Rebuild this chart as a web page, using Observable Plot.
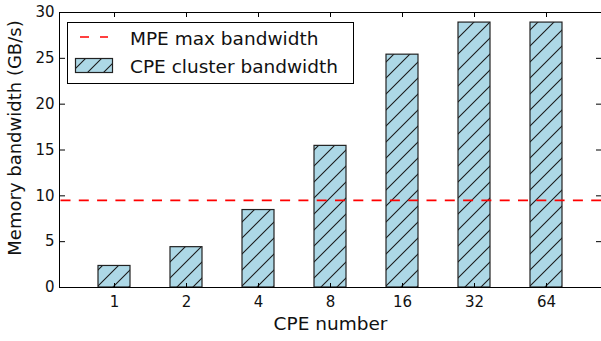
<!DOCTYPE html>
<html><head><meta charset="utf-8">
<script src="https://cdn.jsdelivr.net/npm/d3@7"></script>
<script src="https://cdn.jsdelivr.net/npm/@observablehq/plot@0.6"></script>
<style>body{margin:0;background:#fff;} #chart{width:601px;height:341px;}</style>
</head><body><div id="chart"></div>
<script>
const cpeCounts = ["1", "2", "4", "8", "16", "32", "64"];
const cpeBandwidth = [2.35, 4.4, 8.45, 15.45, 25.4, 28.9, 28.9];
const mpeMaxBandwidth = 9.5;
const yTicks = [0, 5, 10, 15, 20, 25, 30];
const legendLabels = ["MPE max bandwidth", "CPE cluster bandwidth"];
const xLabel = "CPE number";
const yLabel = "Memory bandwidth (GB/s)";

const data = cpeCounts.map((c, i) => ({cpe: c, bw: cpeBandwidth[i]}));
const W = 601, H = 341, mL = 59, mR = 0, mT = 12, mB = 54;
const innerH = H - mT - mB, innerW = W - mL - mR;
const font = "'DejaVu Sans', sans-serif";
const tickLen = 5;

const plot = Plot.plot({
  width: W, height: H,
  marginLeft: mL, marginRight: mR, marginTop: mT, marginBottom: mB,
  style: {fontFamily: font, fontSize: "15px", color: "#111", background: "#fff", overflow: "visible"},
  x: {domain: cpeCounts, paddingInner: 0.55, paddingOuter: 0.5, axis: null},
  y: {domain: [0, 30], axis: null},
  marks: [
    Plot.barY(data, {x: "cpe", y: "bw", fill: "#add8e6"}),
    Plot.barY(data, {x: "cpe", y: "bw", fill: "url(#hatch)", stroke: "#222", strokeWidth: 1.2}),
    Plot.ruleY([mpeMaxBandwidth], {stroke: "red", strokeWidth: 1.8, strokeDasharray: "10,8.3", strokeDashoffset: -1.5}),
    Plot.frame({stroke: "#000", strokeWidth: 1}),
    // tick labels
    Plot.axisX(cpeCounts, {anchor: "bottom", tickSize: 0, tickPadding: 9, label: null, fontSize: 15, fill: "#111"}),
    Plot.axisY(yTicks, {anchor: "left", tickSize: 0, tickPadding: 5, label: null, fontSize: 15, fill: "#111"}),
    // inward ticks
    Plot.axisX(cpeCounts, {anchor: "top", tickSize: tickLen, fill: "none", label: null, dy: innerH, stroke: "#000"}),
    Plot.axisX(cpeCounts, {anchor: "bottom", tickSize: tickLen, fill: "none", label: null, dy: -innerH, stroke: "#000"}),
    Plot.axisY(yTicks, {anchor: "right", tickSize: tickLen, fill: "none", label: null, dx: -innerW, stroke: "#000"}),
    Plot.axisY(yTicks, {anchor: "left", tickSize: tickLen, fill: "none", label: null, dx: innerW, stroke: "#000"}),
    // axis titles
    Plot.text([xLabel], {frameAnchor: "bottom", dy: 37, text: d => d, fontSize: 18.5, lineAnchor: "middle", textAnchor: "middle", fill: "#111"}),
    Plot.text([yLabel], {frameAnchor: "left", dx: -44, dy: -12, rotate: -90, text: d => d, fontSize: 18, lineAnchor: "middle", textAnchor: "middle", fill: "#111"})
  ]
});

const svg = d3.select(plot);
const defs = svg.insert("defs", ":first-child");
const sp = 16;
const pat = defs.append("pattern").attr("id", "hatch").attr("patternUnits", "userSpaceOnUse")
  .attr("width", sp).attr("height", sp);
pat.append("path")
  .attr("d", `M0,${sp} L${sp},0 M${-sp/4},${sp/4} L${sp/4},${-sp/4} M${sp*3/4},${sp*5/4} L${sp*5/4},${sp*3/4}`)
  .attr("stroke", "#1a1a1a").attr("stroke-width", 1.1).attr("fill", "none");

// legend
const lg = svg.append("g").attr("font-family", font).attr("font-size", 18.5).attr("fill", "#111").attr("text-anchor", "start");
lg.append("rect").attr("x", 67.5).attr("y", 22.5).attr("width", 286).attr("height", 61)
  .attr("fill", "#fff").attr("stroke", "#000").attr("stroke-width", 1);
lg.append("line").attr("x1", 80).attr("x2", 108).attr("y1", 37).attr("y2", 37)
  .attr("stroke", "red").attr("stroke-width", 1.5).attr("stroke-dasharray", "9,11");
lg.append("rect").attr("x", 75.5).attr("y", 58.5).attr("width", 37).attr("height", 14).attr("fill", "#add8e6");
lg.append("rect").attr("x", 75.5).attr("y", 58.5).attr("width", 37).attr("height", 14)
  .attr("fill", "url(#hatch)").attr("stroke", "#222").attr("stroke-width", 1.2);
lg.append("text").attr("x", 130).attr("y", 45).attr("text-anchor", "start").text(legendLabels[0]);
lg.append("text").attr("x", 130).attr("y", 73).attr("text-anchor", "start").text(legendLabels[1]);

document.getElementById("chart").appendChild(plot);
</script>
</body></html>
